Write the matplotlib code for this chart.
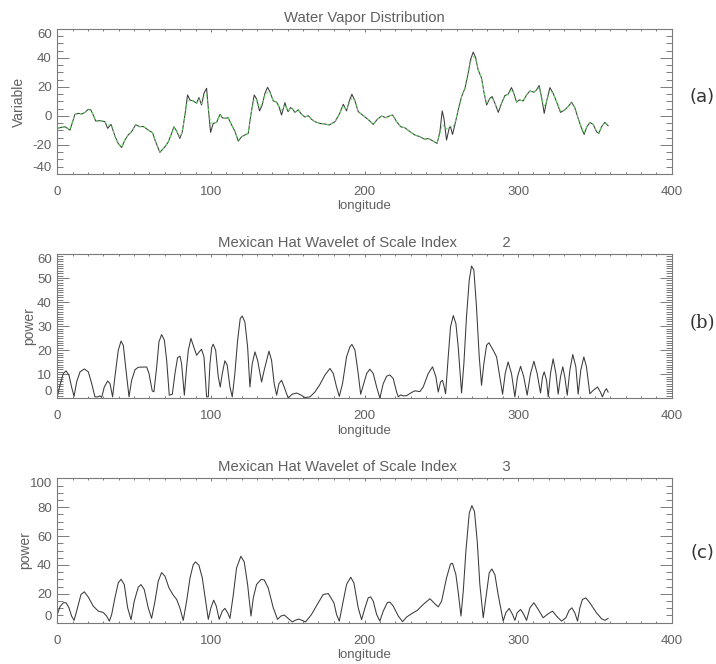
import numpy as np
import matplotlib
matplotlib.use("Agg")
import matplotlib.pyplot as plt
from matplotlib.ticker import MultipleLocator

# ---------------- data ----------------
lon_a = [0, 2.8, 5, 8.3, 11.5, 13.7, 15.9, 18, 20.2, 21.7,
         23.4, 25, 27.8, 31, 32.8, 35, 37.5, 39.7, 41.9, 44,
         46.2, 48.4, 51, 53.8, 56, 59.2, 62, 63.6, 66.8, 70.1,
         72.3, 74.4, 75.9, 77.7, 79.8, 81.4, 83.1, 84.8, 86.4, 88.5,
         90.7, 92.2, 93.9, 95.5, 97.2, 98.3, 99.8, 101.5, 103.7, 105.9,
         107.4, 109.1, 111.3, 113.5, 115.6, 117.8, 120, 122.1, 124.3, 126,
         128.2, 129.7, 131.7, 133.4, 135.2, 136.9, 138.4, 140.6, 142.8, 144.3,
         146, 148.2, 149.3, 150.3, 151.9, 153.2, 154.7, 156.9, 159, 161.2,
         163.4, 165.5, 167.7, 171, 174.2, 177, 180.8, 183.6, 186.2, 188.3,
         190.1, 191.8, 193.8, 195.9, 198.1, 201.4, 203.5, 205.7, 208.3, 211.1,
         213.9, 216.5, 218.3, 220.9, 223.5, 226.3, 229.6, 232.8, 236.1, 239.3,
         241.5, 244.7, 247.3, 249.1, 250.6, 251.7, 253.4, 255.2, 256, 257.3,
         258.8, 261, 263.2, 265.4, 267.5, 269, 270.8, 272.3, 274, 276.2,
         277.7, 279.5, 281.6, 283.1, 284.9, 287.1, 289.2, 291.4, 293.5, 295.7,
         297.2, 299, 300.7, 303.3, 305.5, 307.7, 310.3, 312, 313.7, 315.2,
         317, 318.5, 320.7, 322.8, 325, 327.6, 330.4, 332.6, 334.8, 336.9,
         339.1, 341.3, 343, 344.5, 346.7, 348.9, 351, 352.6, 354.3, 356.5,
         358.6]

vapor = [-8.5, -7.8, -7.4, -9.7, 1.2, 1.8, 1.4, 2.5, 4.6, 4.4,
         0.7, -3.5, -3.2, -3.9, -8.5, -5.8, -13.8, -19, -21.7, -16.6,
         -13, -10.8, -6, -7.4, -7.2, -9.7, -11.5, -16.6, -25.1, -21.2,
         -17.8, -12, -7.4, -10.4, -15.5, -10.8, 0.7, 14.5, 11, 10.4,
         8.8, 12.7, 7.6, 15.7, 19.1, 5.3, -11.3, -5.1, -4.4, 1.2,
         -1.2, -1.6, -1.2, -6.2, -10.4, -17.3, -14.3, -13.1, -12, 0.7,
         14.5, 11.8, 3.5, 7.6, 15.7, 19.8, 16.8, 10.4, 9.5, 6.5,
         0.7, 9.2, 5.3, 3.0, 5.8, 4.8, 2.5, 4.2, 1.2, -0.7,
         0.2, -2.3, -3.9, -5.1, -5.5, -6.2, -3.9, 1.2, 8.1, 3.5,
         10.4, 15, 10.4, 3, 1.2, -1.6, -3.5, -5.8, -2.3, 0,
         -1.2, 0.2, 0.7, -3.9, -7.4, -8.1, -10.8, -13.1, -14.3, -16.1,
         -15.5, -17.3, -18.9, -10.8, 3.5, -1.6, -16.6, -8.1, -7.4, -12.7,
         -6.2, 4.2, 13.4, 19.1, 29.5, 38.8, 44.1, 40.4, 31.8, 26.1,
         16.8, 7.6, 12.2, 13.4, 8.8, 2.5, 8.8, 14.1, 15, 19.6,
         15.7, 9.5, 11.1, 10.4, 14.5, 17.3, 16.4, 18, 21, 13.4,
         1.8, 9.9, 19.6, 15.7, 9.9, 2.5, 4.2, 6.5, 9.5, 5.8,
         -1.6, -8.5, -12.7, -8.1, -4.4, -5.8, -10.8, -12, -7.4, -4.4,
         -6.7]

vapor_smooth = [-8.5, -7.8, -7.4, -9.2, 1.0, 1.8, 1.4, 2.5, 4.2, 4.2,
                0.7, -3.5, -3.2, -3.9, -6.5, -5.8, -13.8, -19, -21.2, -16.6,
                -13, -10.8, -6, -7.4, -7.2, -9.7, -11.5, -16.6, -24.5, -21.2,
                -17.8, -12, -8.0, -10.4, -14.5, -10.8, 0.7, 10.5, 10.5, 10.4,
                8.8, 11.5, 8.5, 12.5, 14.5, 5.0, -5.0, -4.5, -4.4, 0.8,
                -1.2, -1.6, -1.2, -6.2, -10.4, -16.5, -14.3, -13.1, -12, 0.7,
                11.5, 11.0, 6.0, 8.0, 14.0, 16.5, 16.0, 10.4, 9.5, 6.5,
                4.0, 7.5, 5.3, 3.5, 5.5, 4.8, 2.5, 4.2, 1.2, -0.7,
                0.2, -2.3, -3.9, -5.1, -5.5, -6.2, -3.9, 1.2, 7.0, 4.0,
                9.0, 12.5, 10.4, 3, 1.2, -1.6, -3.5, -5.8, -2.3, 0,
                -1.2, 0.2, 0.7, -3.9, -7.4, -8.1, -10.8, -13.1, -14.3, -16.1,
                -15.5, -17.3, -18.5, -12.0, -6.0, -7.0, -9.0, -7.0, -7.0, -8.0,
                -5.0, 4.2, 13.4, 19.1, 29.5, 37.5, 41.0, 39.5, 31.8, 26.1,
                16.8, 9.0, 11.5, 12.5, 8.8, 4.0, 8.8, 13.5, 15, 18.0,
                15.7, 10.0, 11.1, 10.4, 14.5, 17.0, 16.4, 18, 19.5, 12.0,
                7.0, 10.0, 17.5, 15.7, 9.9, 3.5, 4.2, 6.5, 9.0, 5.8,
                -1.6, -8.0, -11.5, -8.1, -4.4, -5.8, -10.0, -11.5, -7.4, -4.4,
                -6.0]

lon_b = [0, 1.7, 3.9, 5.7, 7.6, 9.3, 10.9, 12.6, 14.8, 17.6,
         20.2, 22.4, 24.5, 26.3, 27.8, 28.9, 30.6, 32.8, 34.3, 36,
         37.5, 39.7, 41.5, 43, 44.5, 46.7, 48.4, 50.6, 52.7, 56,
         58.2, 59.7, 61.8, 62.9, 64.7, 66.2, 67.9, 69.7, 71.2, 72.9,
         74.9, 76.6, 78.3, 79.9, 80.9, 82.7, 84.2, 85.3, 87, 88.5,
         90.7, 92.4, 93.9, 95.5, 97.2, 98.3, 99.4, 100.5, 101.5, 103.1,
         104.8, 106.1, 107.4, 109.1, 110.6, 112.4, 113.9, 115.6, 117.4, 119.1,
         120.4, 122.1, 123.9, 125.4, 126.9, 128.7, 130.4, 133, 134.7, 137.8,
         139.5, 141.2, 142.8, 144.3, 146, 147.7, 150.3, 152.9, 155.8, 158.6,
         161.2, 164.5, 167.7, 171, 174.2, 177.5, 179.7, 181.8, 183.6, 185.7,
         188.3, 190.5, 191.8, 193.8, 195.9, 197.5, 199.2, 201.4, 203.5, 205.7,
         207.9, 210, 212.2, 214.4, 216.5, 218.7, 220.9, 222, 223.5, 225.2,
         227.4, 230.6, 232.8, 236.1, 238.2, 241.5, 244.3, 246.5, 248, 249.5,
         250.8, 251.9, 252.8, 254.5, 256, 257.8, 259.5, 261, 263.2, 264.7,
         266.4, 268.2, 269.7, 271.2, 272.9, 274.7, 276.2, 277.7, 279.5, 281,
         283.8, 286, 288.1, 289.9, 291.6, 293.5, 295.7, 297.9, 299.6, 301.6,
         303.7, 305.9, 308.1, 310.3, 312.4, 314.6, 315.9, 317, 318.5, 319.6,
         321.1, 322.8, 324.6, 326.1, 327.6, 329.1, 330.4, 332, 333.7, 335.6,
         337.6, 339.1, 340.8, 342.8, 344.5, 346.7, 348.9, 351.7, 353.6, 354.9,
         356.5, 357.5, 358.6]

power_b = [0.6, 5.4, 10.3, 11.4, 9.6, 4.7, 0.8, 6.8, 11, 12.2,
           11, 6.1, 0.6, 0.6, 1.0, 0.4, 4.7, 7.2, 6.1, 0.6,
           8.9, 20, 23.8, 22, 13, 0.6, 7.5, 11.9, 12.9, 13,
           13, 10.3, 3.1, 2.7, 13, 23.5, 26.5, 24.2, 15.8, 1.3,
           1.7, 10.3, 16.9, 17.5, 14.4, 1.3, 13, 20, 24.9, 22,
           17.9, 19.3, 20.4, 17.2, 0.6, 0.6, 14.4, 21.1, 22.5, 20,
           8.9, 4.7, 10.3, 15.6, 13.8, 4.7, 0.6, 10.3, 24.2, 33.2,
           34.2, 31.8, 21.4, 4.7, 14.4, 19.3, 15.8, 6.8, 11.7, 19.6,
           15.8, 6.1, 1.3, 6.1, 7.5, 4.7, 0.1, 1.7, 2.2, 1.4,
           0.3, 0.6, 2.6, 5.8, 9.6, 12.4, 10.3, 4.7, 0.8, 6.1,
           17.2, 21.4, 22.4, 20, 10.3, 1.7, 5.4, 10.3, 12.1, 10.3,
           4.7, 0.1, 6.1, 9.2, 9.7, 8.2, 2.6, 0.6, 1.4, 1.0,
           1.1, 2.4, 3.1, 2.8, 4.7, 10.3, 13.1, 8.9, 2.6, 6.8,
           7.5, 4.7, 1.9, 17.2, 29.7, 34.4, 31.1, 21.4, 2.2, 14.4,
           33.9, 49.2, 55, 53.3, 38.1, 17.2, 5.4, 14.4, 22.1, 23.1,
           20, 17.2, 8.9, 1.7, 10.3, 15.1, 10.3, 0.6, 8.9, 13.3,
           8.9, 1.3, 10.3, 15.4, 10.3, 2.2, 8.9, 11, 7.5, 0.6,
           10.3, 16.4, 10.3, 1.7, 8.9, 13.1, 8.9, 1.3, 11.7, 18.2,
           13.1, 1.7, 11.7, 17.2, 13.1, 1.9, 3.3, 4.7, 2.6, 0.6,
           3.1, 4.0, 2.6]

lon_c = [0, 1.7, 3.9, 5.7, 7.6, 9.3, 10.9, 12.6, 15.4, 17.6,
         20.2, 23.4, 26.7, 29.9, 32.1, 33.9, 35.4, 37.5, 39.7, 41.5,
         43.6, 45.8, 48, 50.1, 52.7, 54.5, 56.6, 59.2, 61.4, 63.6,
         65.7, 67.9, 70.1, 72.7, 75.5, 77.7, 79.8, 82, 84.2, 86.4,
         88.5, 90, 92.2, 94.4, 96.6, 98.3, 100, 101.8, 103.5, 105.4,
         107.4, 109.1, 110.9, 112.4, 114.6, 116.7, 119.5, 121.7, 123.9, 126.1,
         127.6, 129.7, 132.6, 134.7, 137.3, 140.6, 143.4, 145.6, 147.8, 150.3,
         153, 155.1, 157.3, 159.5, 161.6, 165.5, 169.9, 173.1, 176.4, 180.1,
         181.8, 183.6, 185.7, 188.3, 191, 193.1, 195.9, 198.1, 200.3, 202.4,
         204, 205.7, 207.9, 210, 212.2, 214.8, 216.5, 218.7, 222, 224.8,
         227.4, 230.6, 234.3, 238.2, 242.6, 245.8, 248, 250.2, 253.4, 256,
         257.3, 259.5, 261.2, 262.8, 264.3, 266, 268.2, 269.9, 271.6, 273.4,
         275.1, 277.3, 279, 281.2, 282.9, 284.9, 287, 290.3, 292, 294.2,
         296.4, 297.9, 299.4, 301.6, 303.7, 305.5, 307.7, 310.3, 313.1, 316.3,
         319.6, 322.4, 325, 328.3, 331.1, 333.2, 335, 336.9, 338.7, 340.2,
         341.9, 344.1, 346.7, 351, 354.3, 356.5, 358.6]

power_c = [5.7, 11, 13.8, 13.8, 10.3, 4.6, 1.6, 8, 19.5, 21.4,
           17.7, 11.5, 8, 7.1, 4.6, 1.1, 5.7, 17.2, 27.6, 30.1,
           26.4, 10.3, 2.1, 14.9, 24.6, 26.4, 23, 10.3, 3, 14.9,
           28.7, 34.7, 32.2, 24.1, 19.1, 16.1, 10.3, 1.6, 14.9, 31,
           40.2, 42.1, 39.8, 31, 14.9, 2.3, 10.3, 15.6, 11.5, 2.3,
           8, 9.9, 6.9, 3, 19.5, 37.9, 46, 42.1, 26.4, 4.6,
           17.2, 26.4, 29.9, 29.7, 24.1, 10.3, 2.3, 4.6, 5.3, 3,
           0.5, 1.8, 2.5, 1.6, 0.5, 5.7, 13.8, 19.5, 20.2, 13.8,
           5.7, 1.1, 12.6, 26.4, 31.5, 27.6, 10.3, 2.1, 10.3, 17.2,
           17.9, 14.9, 5.7, 1.1, 8, 13.8, 14.3, 11.5, 4.6, 0.7,
           3.9, 6.2, 8.5, 12.6, 16.6, 13.1, 11, 14.9, 31, 40.7,
           41.1, 33.3, 19.5, 4.6, 21.8, 49.4, 75.9, 81.1, 77, 56.3,
           26.4, 3.4, 17.2, 34.5, 37.2, 33.3, 19.5, 1.1, 6.9, 9.9,
           5.7, 1.6, 6.9, 9.2, 5.7, 1.6, 10.3, 13.8, 9.2, 3.4,
           6.2, 8, 4.6, 1.1, 3.4, 8.5, 10.3, 6.9, 1.1, 10.3,
           16.1, 17.2, 13.8, 6.9, 2.8, 1.6, 3]

x_ticks = [0, 100, 200, 300, 400]
y_ticks_a = [-40, -20, 0, 20, 40, 60]
y_ticks_b = [0, 10, 20, 30, 40, 50, 60]
y_ticks_c = [0, 20, 40, 60, 80, 100]

title_a = "Water Vapor Distribution"
title_b = "Mexican Hat Wavelet of Scale Index           2"
title_c = "Mexican Hat Wavelet of Scale Index           3"

# ---------------- style ----------------
plt.rcParams['font.family'] = ['Liberation Sans', 'DejaVu Sans']
AXIS_COLOR = '#7a7a7a'
TEXT_COLOR = '#606060'
LINE_COLOR = '#3a3a3a'
GREEN = '#5fe45f'

W, H = 716, 664
fig = plt.figure(figsize=(W / 100, H / 100), dpi=100)
fig.patch.set_facecolor('white')


def add_axes(left, top, right, bottom):
    return fig.add_axes([left / W, 1 - bottom / H, (right - left) / W, (bottom - top) / H])


def style(ax, yticks, yminor, title, ylabel, ylabel_x):
    ax.set_xlim(x_ticks[0], x_ticks[-1])
    ax.set_ylim(yticks[0], yticks[-1])
    ax.set_xticks(x_ticks)
    ax.set_xticklabels([str(t) for t in x_ticks])
    ax.xaxis.set_minor_locator(MultipleLocator(10))
    ax.set_yticks(yticks)
    ax.set_yticklabels([str(t) for t in yticks])
    ax.yaxis.set_minor_locator(MultipleLocator(yminor))
    ax.tick_params(axis='x', which='major', direction='in', length=2.1, width=0.7,
                   top=True, bottom=True, color=AXIS_COLOR, labelcolor=TEXT_COLOR,
                   labelsize=9.5, pad=8.5)
    ax.tick_params(axis='x', which='minor', direction='in', length=1.1, width=0.7,
                   top=True, bottom=True, color=AXIS_COLOR)
    ax.tick_params(axis='y', which='major', direction='in', length=8.8, width=0.7,
                   left=True, right=True, color=AXIS_COLOR, labelcolor=TEXT_COLOR,
                   labelsize=9.5, pad=4)
    ax.tick_params(axis='y', which='minor', direction='in', length=4.4, width=0.7,
                   left=True, right=True, color=AXIS_COLOR)
    for s in ax.spines.values():
        s.set_color(AXIS_COLOR)
        s.set_linewidth(0.8)
    labels = ax.get_yticklabels()
    labels[0].set_verticalalignment('bottom')
    labels[-1].set_verticalalignment('top')
    ax.set_title(title, fontsize=10.7, color=TEXT_COLOR, pad=5)
    ax.set_xlabel('longitude', fontsize=9.5, color=TEXT_COLOR)
    ax.xaxis.set_label_coords(0.5, -32.5 / 145)
    ax.xaxis.label.set_verticalalignment('center')
    ax.set_ylabel(ylabel, fontsize=10, color=TEXT_COLOR)
    ax.yaxis.set_label_coords(ylabel_x, 0.5)
    ax.yaxis.label.set_verticalalignment('center')


ax_a = add_axes(57.3, 29, 671.7, 174)
ax_b = add_axes(57.3, 254, 671.7, 398.3)
ax_c = add_axes(57.3, 478.3, 671.7, 622.7)

ax_a.plot(lon_a, vapor, color=LINE_COLOR, lw=0.75)
ax_a.plot(lon_a, vapor_smooth, color=GREEN, lw=0.7, dashes=(2.5, 2.5))
ax_b.plot(lon_b, power_b, color=LINE_COLOR, lw=0.75)
ax_c.plot(lon_c, power_c, color=LINE_COLOR, lw=0.75)

style(ax_a, y_ticks_a, 5, title_a, 'Variable', -0.0618)
style(ax_b, y_ticks_b, 1, title_b, 'power', -0.0456)
style(ax_c, y_ticks_c, 5, title_c, 'power', -0.0526)

fig.text(702 / W, 1 - 96.7 / H, '(a)', ha='center', va='center', fontsize=13,
         color='#333333', family='DejaVu Sans')
fig.text(702 / W, 1 - 323.3 / H, '(b)', ha='center', va='center', fontsize=13,
         color='#333333', family='DejaVu Serif')
fig.text(702 / W, 1 - 553.3 / H, '(c)', ha='center', va='center', fontsize=13,
         color='#333333', family='DejaVu Sans')

fig.savefig('out.png', dpi=100, facecolor='white')
